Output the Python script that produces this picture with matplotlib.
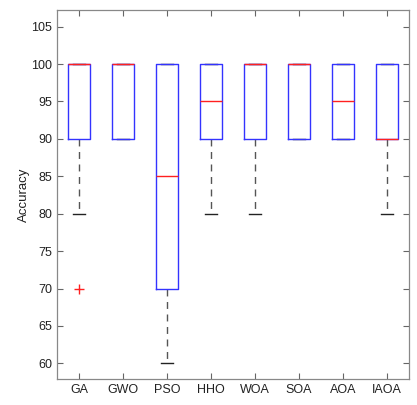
import matplotlib
matplotlib.use("Agg")
import matplotlib.pyplot as plt

plt.rcParams['font.family'] = ['Liberation Sans', 'DejaVu Sans']

# per-algorithm box statistics (accuracy, %)
algorithms = ["GA", "GWO", "PSO", "HHO", "WOA", "SOA", "AOA", "IAOA"]
q1 = [90, 90, 70, 90, 90, 90, 90, 90]
median = [100, 100, 85, 95, 100, 100, 95, 90]
q3 = [100, 100, 100, 100, 100, 100, 100, 100]
whislo = [80, 90, 60, 80, 80, 90, 90, 80]
whishi = [100, 100, 100, 100, 100, 100, 100, 100]
outliers = [[70], [], [], [], [], [], [], []]

stats = []
for i, name in enumerate(algorithms):
    stats.append(dict(label=name, q1=q1[i], med=median[i], q3=q3[i],
                      whislo=whislo[i], whishi=whishi[i], fliers=outliers[i]))

fig = plt.figure(figsize=(4.17, 4.05), dpi=100)
ax = fig.add_axes([0.137, 0.064, 0.844, 0.911])

# caps/whiskers go underneath the boxes, medians on top
ax.bxp(stats, positions=range(1, 9), widths=0.5, showcaps=True,
       boxprops=dict(color="#3333ff", linewidth=1.0, zorder=3),
       medianprops=dict(color="#ff2020", linewidth=1.0, zorder=4),
       whiskerprops=dict(color="#555555", linewidth=1.0, linestyle=(0, (5, 4)),
                         zorder=2),
       capprops=dict(color="#222222", linewidth=1.0, zorder=2),
       capwidths=0.27,
       flierprops=dict(marker="+", markeredgecolor="#ff2020", markersize=7,
                       linestyle="none"))

ax.set_xlim(0.5, 8.5)
ax.set_ylim(57.9, 107.2)
ax.set_yticks(range(60, 106, 5))
ax.set_xticks(range(1, 9))
ax.set_xticklabels(algorithms)
ax.set_ylabel("Accuracy", fontsize=9.5, color="#222222", labelpad=1)

ax.tick_params(direction="in", length=4, width=0.8, color="#666666",
               labelsize=9, labelcolor="#222222", top=True, right=True)
for s in ax.spines.values():
    s.set_color("#888888")
    s.set_linewidth(0.9)

fig.savefig("out.png", dpi=100)
